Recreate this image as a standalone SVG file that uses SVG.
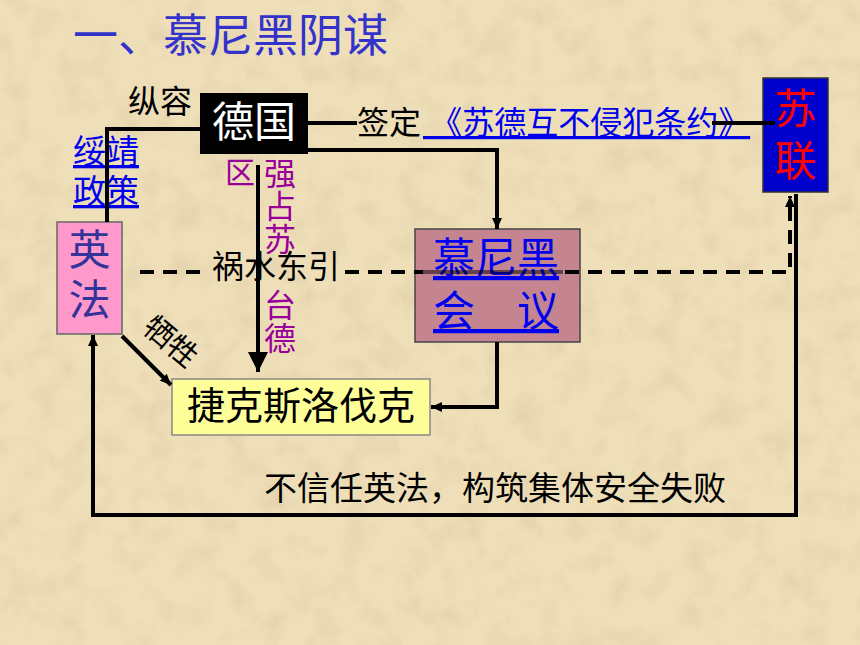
<svg xmlns="http://www.w3.org/2000/svg" width="860" height="645" viewBox="0 0 860 645">
<style>
text{font-family:"Noto Sans CJK SC","Noto Sans",sans-serif}
.ln{fill:none;stroke:#000;stroke-width:4;stroke-linejoin:miter}
.dash{fill:none;stroke:#000;stroke-width:4;stroke-dasharray:14 9}
.lk{fill:#0000ee;text-decoration:underline}
.vt{writing-mode:vertical-rl}
.pur{fill:#990099;font-size:32px;letter-spacing:1px}
</style>
<defs>
<filter id="paper" x="0" y="0" width="100%" height="100%">
<feTurbulence type="fractalNoise" baseFrequency="0.035" numOctaves="4" seed="7"/>
<feColorMatrix type="matrix" values="0 0 0 0 0.62  0 0 0 0 0.5  0 0 0 0 0.3  0 0 0 1.6 -0.72"/>
</filter>
<marker id="ah" markerUnits="userSpaceOnUse" markerWidth="11" markerHeight="10" refX="11" refY="5" orient="auto">
<path d="M0,0 L11,5 L0,10 z" fill="#000"/>
</marker>
<marker id="ahb" markerUnits="userSpaceOnUse" markerWidth="20" markerHeight="20" refX="20" refY="10" orient="auto">
<path d="M0,0 L20,10 L0,20 z" fill="#000"/>
</marker>
</defs>
<rect width="860" height="645" fill="#efdfb9"/>
<rect width="860" height="645" filter="url(#paper)" opacity="0.45"/>

<text x="73" y="52" font-size="45" fill="#3333cc">一、慕尼黑阴谋</text>

<g id="node-deguo">
<rect x="200" y="93" width="108" height="61" fill="#000"/>
<text x="254" y="137" font-size="42" fill="#fff" text-anchor="middle">德国</text>
</g>
<g id="node-yingfa">
<rect x="57" y="222" width="65" height="112" fill="#ff99cc" stroke="#666" stroke-width="1.5"/>
<text x="89.5" y="228" font-size="42" fill="#333399" class="vt" letter-spacing="8">英法</text>
</g>
<g id="node-munich">
<rect x="415" y="229" width="165" height="113" fill="#c48590" stroke="#444" stroke-width="1.5"/>
<text font-size="42" class="lk"><tspan x="433" y="273">慕尼黑</tspan><tspan x="433" y="326">会　议</tspan></text>
</g>
<g id="node-sulian">
<rect x="763" y="78" width="65" height="114" fill="#0000cc" stroke="#333" stroke-width="1.5"/>
<text x="795.5" y="87" font-size="42" fill="#ff0000" class="vt" letter-spacing="10">苏联</text>
</g>
<g id="node-czech">
<rect x="172" y="379" width="258" height="56" fill="#ffff99" stroke="#888" stroke-width="1.5"/>
<text x="301" y="419" font-size="38" fill="#000" text-anchor="middle">捷克斯洛伐克</text>
</g>

<g id="labels">
<text x="160" y="113" font-size="32" fill="#000" text-anchor="middle">纵容</text>
<text font-size="33" class="lk"><tspan x="73" y="163">绥靖</tspan><tspan x="73" y="203">政策</tspan></text>
<text x="240" y="183" font-size="30" fill="#990099" text-anchor="middle">区</text>
<text x="280" y="157" class="pur vt">强占苏</text>
<text x="280" y="289" class="pur vt">台德</text>
<text x="212" y="278" font-size="32" fill="#000">祸水东引</text>
<text x="171" y="352" font-size="30" fill="#000" text-anchor="middle" transform="rotate(40 171 341)">牺牲</text>
<text x="357" y="134" font-size="32" fill="#000">签定</text>
<text x="423" y="134" font-size="32" class="lk" style="white-space:pre"> 《苏德互不侵犯条约》</text>
<text x="264" y="500" font-size="33" fill="#000">不信任英法，构筑集体安全失败</text>
</g>

<g id="connectors">
<polyline class="ln" points="200,129 107,129 107,222"/>
<polyline class="ln" points="308,150 497,150 497,229" marker-end="url(#ah)"/>
<line class="ln" x1="308" y1="123" x2="357" y2="123" stroke-width="3.5"/>
<line class="ln" x1="712" y1="123" x2="775" y2="123" stroke-width="4.5"/>
<line class="ln" x1="258" y1="165" x2="258" y2="372" marker-end="url(#ahb)"/>
<line class="ln" x1="122" y1="336" x2="171" y2="385" marker-end="url(#ah)"/>
<polyline class="ln" points="497,342 497,407 431,407" marker-end="url(#ah)"/>
<polyline class="ln" points="796,194 796,515 93,515 93,335" marker-end="url(#ah)"/>
<line class="dash" x1="140" y1="272" x2="208" y2="272"/>
<line class="dash" x1="345" y1="272" x2="423" y2="272"/>
<line x1="423" y1="272" x2="563" y2="272" stroke="#000" stroke-opacity="0.5" stroke-width="4"/>
<polyline class="dash" points="565,272 790,272 790,196" marker-end="url(#ah)"/>
</g>
</svg>
